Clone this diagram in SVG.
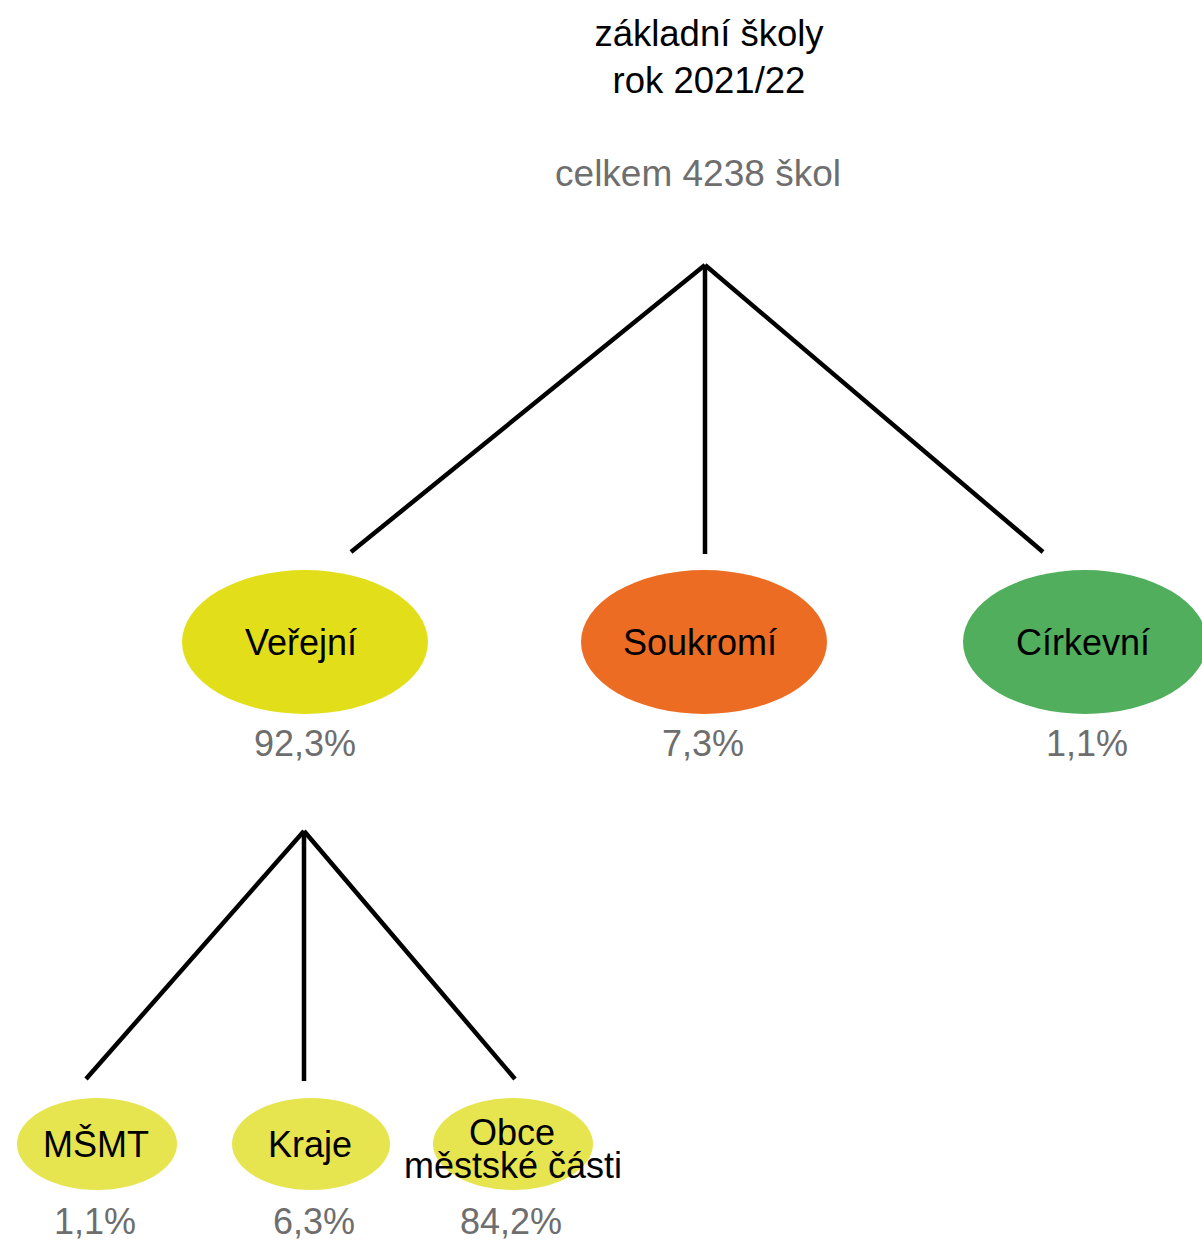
<svg xmlns="http://www.w3.org/2000/svg" width="1202" height="1243" viewBox="0 0 1202 1243">
<style>
text{font-family:"Liberation Sans",Arial,sans-serif;font-size:36px;text-anchor:middle}
.dark{fill:#000}
.gray{fill:#6e6e6e}
.conn line{stroke:#000;stroke-width:4.5;stroke-linecap:butt}
.y1{fill:#e2df1a}
.y2{fill:#e6e550}
</style>
<rect width="1202" height="1243" fill="#fff"/>
<g id="title">
<text class="dark" x="709" y="46" style="font-size:36.5px">základní školy</text>
<text class="dark" x="709" y="93" style="font-size:36.5px">rok 2021/22</text>
<text class="gray" x="698" y="186" style="font-size:37px">celkem 4238 škol</text>
</g>
<g id="connectors" class="conn">
<line x1="705" y1="265" x2="351" y2="552"/>
<line x1="705" y1="265" x2="705" y2="554"/>
<line x1="705" y1="265" x2="1043" y2="552"/>
<line x1="304" y1="831" x2="86" y2="1079"/>
<line x1="304" y1="831" x2="304" y2="1081"/>
<line x1="304" y1="831" x2="515" y2="1079"/>
</g>
<g id="verejni">
<ellipse class="y1" cx="305" cy="642" rx="123" ry="72"/>
<text class="dark" x="301" y="655">Veřejní</text>
<text class="gray" x="305" y="756">92,3%</text>
</g>
<g id="soukromi">
<ellipse fill="#ec6c23" cx="704" cy="642" rx="123" ry="72"/>
<text class="dark" x="700" y="655">Soukromí</text>
<text class="gray" x="703" y="756">7,3%</text>
</g>
<g id="cirkevni">
<ellipse fill="#50ae5c" cx="1085" cy="642" rx="122" ry="72"/>
<text class="dark" x="1083" y="655">Církevní</text>
<text class="gray" x="1087" y="756">1,1%</text>
</g>
<g id="msmt">
<ellipse class="y2" cx="97" cy="1144" rx="80" ry="46"/>
<text class="dark" x="96" y="1157">MŠMT</text>
<text class="gray" x="95" y="1234">1,1%</text>
</g>
<g id="kraje">
<ellipse class="y2" cx="311" cy="1144" rx="79" ry="46"/>
<text class="dark" x="310" y="1157">Kraje</text>
<text class="gray" x="314" y="1234">6,3%</text>
</g>
<g id="obce">
<ellipse class="y2" cx="513" cy="1144" rx="80" ry="46"/>
<text class="dark"><tspan x="512" y="1145">Obce</tspan><tspan x="513" y="1178">městské části</tspan></text>
<text class="gray" x="511" y="1234">84,2%</text>
</g>
</svg>
